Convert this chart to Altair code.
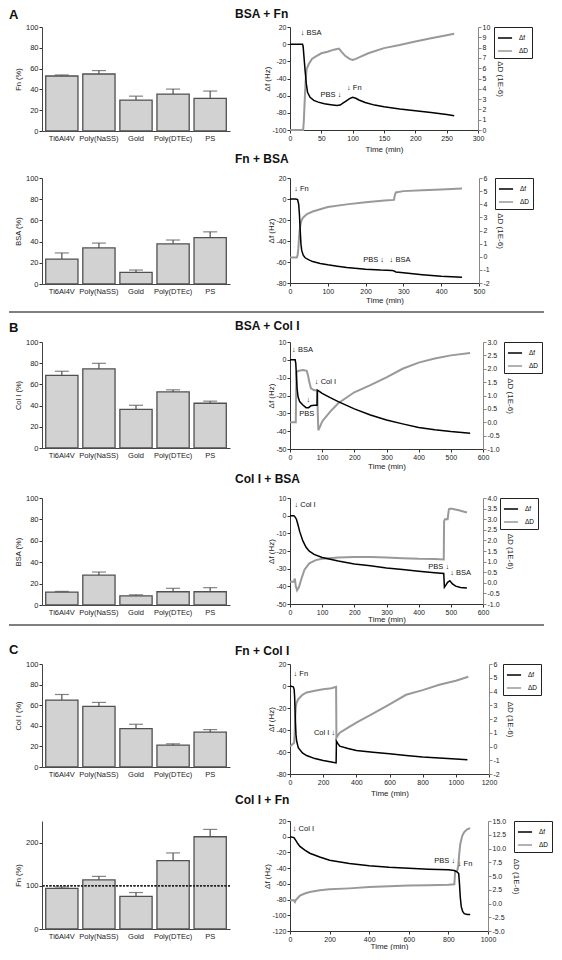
import altair as alt
import pandas as pd

# ---------------- bar data ----------------
CATS = ["Ti6Al4V", "Poly(NaSS)", "Gold", "Poly(DTEc)", "PS"]

A1_MEAN = [52.9, 54.8, 29.7, 35.5, 31.3]
A1_SD = [1.0, 3.3, 3.8, 4.8, 7.1]
A2_MEAN = [23.5, 34.0, 10.9, 37.9, 43.7]
A2_SD = [5.8, 4.6, 2.3, 3.6, 5.5]
B1_MEAN = [68.5, 74.7, 36.4, 52.9, 42.2]
B1_SD = [3.9, 5.2, 3.9, 2.0, 2.0]
B2_MEAN = [12.1, 27.9, 8.6, 12.4, 12.4]
B2_SD = [0.6, 2.9, 0.9, 3.2, 3.8]
C1_MEAN = [65.0, 58.8, 37.3, 21.2, 33.8]
C1_SD = [5.4, 3.9, 4.2, 1.3, 2.5]
C2_MEAN = [94.2, 113.6, 75.5, 158.3, 213.5]
C2_SD = [3.2, 8.2, 8.9, 17.8, 17.0]
C2_REF = 100

# ---------------- QCM data ----------------
# Panel 1: BSA + Fn
P1_F_T = [0, 20, 21, 22, 24, 25, 26, 28, 32, 38, 45, 55, 65, 75, 80, 85, 90, 95, 100, 105, 110, 120, 135, 150, 175, 200, 225, 250, 262]
P1_F_V = [0, 0, -3, -12, -30, -38, -46, -56, -62, -65.5, -67.5, -69.5, -70.5, -71.5, -71, -68.5, -66, -63.5, -62, -63, -65, -68, -71, -73, -75.5, -77.5, -79.5, -82, -83.5]
P1_D_T = [0, 21, 22, 23, 24, 25, 26.5, 30, 35, 40, 50, 60, 70, 78, 82, 88, 95, 100, 105, 112, 125, 150, 175, 200, 225, 250, 262]
P1_D_V = [0, 0, 0.8, 2.2, 3.6, 4.8, 5.9, 6.4, 6.9, 7.1, 7.45, 7.6, 7.8, 7.9, 7.6, 7.2, 6.9, 6.8, 6.9, 7.1, 7.45, 7.95, 8.25, 8.6, 8.9, 9.2, 9.35]
P1_ANN_TEXT = ["↓ BSA", "PBS ↓", "↓ Fn"]
P1_ANN_T = [21, 78, 95]
P1_ANN_Y = [13.3, -58.7, -51.6]

# Panel 2: Fn + BSA
P2_F_T = [0, 15, 20, 23, 25, 27, 29, 31, 35, 40, 50, 60, 80, 100, 125, 150, 200, 240, 270, 275, 280, 300, 350, 400, 455]
P2_F_V = [0, 0, -0.5, -5, -15, -30, -43, -49, -53.5, -56, -58, -59.6, -61.4, -62.7, -64, -65.2, -66.8, -67.7, -68, -68.5, -69.5, -70.3, -72.1, -73.6, -74.5]
P2_D_T = [0, 18, 20, 22, 24, 26, 28, 31, 35, 45, 60, 80, 100, 150, 200, 250, 275, 277, 280, 300, 350, 400, 455]
P2_D_V = [-0.05, -0.05, 0.1, 0.6, 1.5, 2.1, 2.5, 2.8, 3.0, 3.25, 3.45, 3.62, 3.79, 3.99, 4.16, 4.29, 4.33, 4.65, 4.9, 5.0, 5.07, 5.12, 5.2]
P2_ANN_TEXT = ["↓ Fn", "PBS ↓", "↓ BSA"]
P2_ANN_T = [17.6, 242, 270]
P2_ANN_Y = [9.6, -58, -58]

# Panel 3: BSA + Col I
P3_F_T = [0, 16, 18, 20, 22, 25, 30, 40, 50, 58, 65, 75, 84, 85, 90, 100, 125, 150, 200, 250, 300, 350, 400, 450, 500, 560]
P3_F_V = [0, 0, -2, -9, -16, -20.7, -23.4, -25.3, -26.8, -26.8, -25.7, -25.5, -25.5, -17, -17.5, -18.8, -21.2, -23.4, -27.5, -30.9, -33.7, -35.9, -37.9, -39.2, -40.2, -41.1]
P3_D_T = [0, 18, 19, 20, 25, 40, 52, 56, 60, 65, 75, 85, 86, 88, 95, 100, 125, 150, 200, 250, 300, 350, 400, 450, 500, 560]
P3_D_V = [0, 0, 1.0, 1.85, 1.92, 1.95, 1.92, 1.75, 1.5, 1.27, 1.2, 1.2, 0.5, -0.3, -0.12, 0.03, 0.4, 0.71, 1.12, 1.39, 1.68, 2.0, 2.23, 2.38, 2.5, 2.59]
P3_ANN_TEXT = ["↓ BSA", "↓", "PBS", "↓ Col I"]
P3_ANN_T = [14.3, 59.3, 52, 85]
P3_ANN_Y = [5.4, -22.5, -30.3, -12.3]

# Panel 4: Col I + BSA
P4_F_T = [0, 12, 16, 20, 25, 30, 40, 50, 60, 75, 100, 150, 200, 250, 300, 350, 400, 450, 478, 480, 485, 490, 497, 505, 515, 530, 550]
P4_F_V = [0, 0, -0.8, -2, -5.3, -8.9, -14.3, -17.9, -20.1, -21.9, -23.7, -25.7, -27.3, -28.4, -29.6, -30.5, -31.4, -32.3, -32.7, -40.5, -39.2, -37.7, -36.8, -38.6, -39.9, -40.6, -41]
P4_D_T = [0, 12, 15, 18, 22, 28, 35, 45, 60, 80, 100, 150, 200, 250, 300, 350, 400, 450, 478, 479, 482, 490, 494, 500, 510, 525, 550]
P4_D_V = [0.05, 0.05, 0.2, -0.15, -0.35, -0.2, 0.17, 0.62, 0.92, 1.07, 1.13, 1.19, 1.22, 1.22, 1.19, 1.16, 1.13, 1.12, 1.1, 2.9, 3.0, 3.0, 3.47, 3.5, 3.47, 3.42, 3.32]
P4_ANN_TEXT = ["↓ Col I", "PBS ↓", "↓ BSA"]
P4_ANN_T = [21.5, 487, 505.6]
P4_ANN_Y = [5.9, -29.1, -32.3]

# Panel 5: Fn + Col I
P5_F_T = [0, 20, 25, 28, 30, 33, 36, 40, 50, 75, 100, 150, 200, 250, 278, 280, 290, 300, 350, 400, 500, 600, 700, 800, 900, 1000, 1070]
P5_F_V = [0, -0.7, -3, -10, -20, -33, -44, -50, -56, -60.8, -63.2, -66, -67.8, -69, -69.9, -50.1, -52.6, -54.7, -56.8, -58.7, -60.2, -61.7, -63.2, -64.5, -65.4, -66.3, -67]
P5_D_T = [0, 25, 28, 31, 35, 40, 50, 75, 100, 150, 200, 250, 278, 280, 290, 300, 350, 400, 500, 600, 700, 800, 900, 1000, 1075]
P5_D_V = [0, 0.27, 0.9, 2.0, 2.85, 3.2, 3.44, 3.76, 3.93, 4.05, 4.17, 4.24, 4.34, 0.63, 0.83, 1.0, 1.37, 1.73, 2.39, 3.07, 3.76, 4.1, 4.49, 4.78, 5.07]
P5_ANN_TEXT = ["↓ Fn", "Col I ↓"]
P5_ANN_T = [36, 257.6]
P5_ANN_Y = [10.9, -42.5]

# Panel 6: Col I + Fn
P6_F_T = [0, 20, 30, 40, 50, 75, 100, 150, 200, 300, 400, 500, 600, 700, 800, 830, 845, 852, 856, 860, 865, 872, 880, 895, 910]
P6_F_V = [0, -1.1, -5, -9, -12.3, -17, -21, -25.9, -29.9, -34.2, -37, -39, -40.2, -41.4, -42.2, -43, -45, -47, -60, -77, -89, -95, -98, -99, -99]
P6_D_T = [0, 20, 25, 30, 50, 75, 100, 150, 200, 300, 400, 500, 600, 700, 800, 830, 834, 845, 850, 855, 860, 870, 880, 895, 910]
P6_D_V = [0.57, 0.57, 0.28, 0.68, 1.42, 1.82, 2.1, 2.4, 2.58, 2.75, 2.98, 3.15, 3.26, 3.32, 3.43, 3.5, 5.8, 6.0, 6.85, 9.1, 10.8, 12.3, 13.0, 13.5, 13.7]
P6_ANN_TEXT = ["↓ Col I", "PBS ↓", "↓ Fn"]
P6_ANN_T = [26.7, 821.7, 860]
P6_ANN_Y = [10, -31, -35]

FONT = "Liberation Sans"
MINUS_FIX = "replace(datum.label, '\u2212', '-')"
BAR_W = 188
COL_GAP = 60


def ticks(lo, hi, step):
    n = int(round((hi - lo) / step))
    return [round(lo + i * step, 3) for i in range(n + 1)]


def bar_chart(means, sds, ytitle, ymax, ystep, h, section=None, sec_off=2, ref=None):
    df = pd.DataFrame({"surface": CATS, "mean": means,
                       "top": [m + s for m, s in zip(means, sds)]})
    base = alt.Chart(df)
    x = alt.X("surface:N", sort=CATS, title=None,
              scale=alt.Scale(paddingInner=0.13, paddingOuter=0.1),
              axis=alt.Axis(labelAngle=0, ticks=False, labelPadding=3, labelFontSize=7.5,
                            domainColor="#444"))
    ysc = alt.Scale(domain=[0, ymax], nice=False)
    yax = alt.Axis(values=ticks(0, ymax, ystep), tickSize=3, labelPadding=1, labelFontSize=7.5,
                   titleFontSize=7.5, titlePadding=3, format="d", domainColor="#444")
    bars = base.mark_bar(fill="#d2d2d2", stroke="#505050", strokeWidth=1.3).encode(
        x=x, y=alt.Y("mean:Q", title=ytitle, scale=ysc, axis=yax))
    err = base.mark_rule(color="#505050", strokeWidth=1.2).encode(
        x=x, y=alt.Y("mean:Q", title=ytitle, scale=ysc, axis=yax), y2="top:Q")
    cap = base.mark_tick(color="#505050", size=14, thickness=1.2).encode(
        x=x, y=alt.Y("top:Q", title=ytitle, scale=ysc, axis=yax))
    layers = [bars]
    if ref is not None:
        layers.append(base.mark_rule(color="#222", strokeDash=[2, 1.5], strokeWidth=0.8).encode(
            y=alt.datum(ref)))
    layers += [err, cap]
    ch = alt.layer(*layers).properties(width=BAR_W, height=h)
    if section:
        ch = ch.properties(title=alt.TitleParams(section, anchor="start", frame="group", dx=-33,
                                                 offset=sec_off, fontSize=13, fontWeight="bold",
                                                 color="#111"))
    return ch


def qcm_chart(title, toff, ft, fv, dt, dv, atext, at, ay, xmax, xstep,
              fmin, fmax, fstep, dmin, dmax, dstep, dfmt, w, h, leg_dx, xtp):
    fdf = pd.DataFrame({"t": ft, "v": fv, "s": ["Δf"] * len(ft)})
    ddf = pd.DataFrame({"t": dt, "v": dv, "s": ["ΔD"] * len(dt)})
    xs = alt.X("t:Q", title="Time (min)", scale=alt.Scale(domain=[0, xmax], nice=False, zero=False),
               axis=alt.Axis(values=ticks(0, xmax, xstep), tickSize=3, labelPadding=1, labelFontSize=7,
                             titleFontSize=8, titlePadding=xtp, labelFlush=False, labelOverlap=False,
                             format="d"))
    col = alt.Color("s:N", scale=alt.Scale(domain=["Δf", "ΔD"], range=["#000000", "#999999"]),
                    legend=alt.Legend(title=None, orient="none", legendX=w + leg_dx, legendY=0,
                                      symbolType="stroke", symbolSize=200, symbolStrokeWidth=1.5,
                                      labelFontSize=6.5, labelOffset=6, strokeColor="#222",
                                      padding=3, rowPadding=1, cornerRadius=0, fillColor="white"))
    fsc = alt.Scale(domain=[fmin, fmax], nice=False, zero=False)
    fax = alt.Axis(values=ticks(fmin, fmax, fstep), tickSize=3, labelPadding=1, labelFontSize=7,
                   titleFontSize=8, titlePadding=0, labelOverlap=False, format="d",
                   labelExpr=MINUS_FIX)
    fline = alt.Chart(fdf).mark_line(strokeWidth=1.5).encode(
        x=xs, y=alt.Y("v:Q", title="Δf (Hz)", scale=fsc, axis=fax), color=col)
    kinds = ["left" if s.startswith("↓") else ("right" if s.endswith("↓") else "center")
             for s in atext]
    adf = pd.DataFrame({"t": at, "y": ay, "label": atext, "kind": kinds})
    texts = []
    for kind, dx in [("left", -2.5), ("right", 2.5), ("center", 0)]:
        sub = adf[adf["kind"] == kind]
        if len(sub) == 0:
            continue
        texts.append(alt.Chart(sub).mark_text(align=kind, baseline="middle", dx=dx, fontSize=7.5,
                                              color="#111").encode(
            x=xs, y=alt.Y("y:Q", title="Δf (Hz)", scale=fsc, axis=fax), text="label:N"))
    dsc = alt.Scale(domain=[dmin, dmax], nice=False, zero=False)
    dax = alt.Axis(orient="right", values=ticks(dmin, dmax, dstep), tickSize=3, labelPadding=1,
                   labelFontSize=7, titleFontSize=8, titlePadding=6, labelOverlap=False,
                   format=dfmt, labelExpr=MINUS_FIX, domainColor="#888", tickColor="#888")
    dline = alt.Chart(ddf).mark_line(strokeWidth=2).encode(
        x=xs, y=alt.Y("v:Q", title="ΔD (1E-6)", scale=dsc, axis=dax), color=col)
    ch = alt.layer(dline, alt.layer(fline, *texts)).resolve_scale(y="independent").properties(
        width=w, height=h,
        title=alt.TitleParams(title, anchor="start", frame="group", dx=-55, offset=toff,
                              fontSize=12, fontWeight="bold", color="#111"))
    return ch


def spacer(h):
    return alt.Chart(pd.DataFrame({"z": [0]})).mark_rule(strokeOpacity=0).encode(
        x=alt.value(0), x2=alt.value(1), y=alt.value(0)).properties(width=10, height=h)


def separator(h, yline):
    return alt.Chart(pd.DataFrame({"z": [0]})).mark_rule(color="#555", strokeWidth=1.5).encode(
        x=alt.value(-33), x2=alt.value(502), y=alt.value(yline)).properties(width=BAR_W, height=h)


bar1 = bar_chart(A1_MEAN, A1_SD, "Fn (%)", 100, 20, 104, section="A", sec_off=1)
bar2 = bar_chart(A2_MEAN, A2_SD, "BSA (%)", 100, 20, 106)
bar3 = bar_chart(B1_MEAN, B1_SD, "Col I (%)", 100, 20, 106, section="B", sec_off=3)
bar4 = bar_chart(B2_MEAN, B2_SD, "BSA (%)", 100, 20, 107)
bar5 = bar_chart(C1_MEAN, C1_SD, "Col I (%)", 100, 20, 103, section="C", sec_off=3)
bar6 = bar_chart(C2_MEAN, C2_SD, "Fn (%)", 250, 50, 108, ref=C2_REF)

q1 = qcm_chart("BSA + Fn", 2, P1_F_T, P1_F_V, P1_D_T, P1_D_V, P1_ANN_TEXT, P1_ANN_T, P1_ANN_Y,
               300, 50, -100, 20, 20, 0, 10, 1, "d", 188, 103, 16, 4)
q2 = qcm_chart("Fn + BSA", 8, P2_F_T, P2_F_V, P2_D_T, P2_D_V, P2_ANN_TEXT, P2_ANN_T, P2_ANN_Y,
               500, 100, -80, 20, 20, -2, 6, 1, "d", 189, 105, 16, 2)
q3 = qcm_chart("BSA + Col I", 5, P3_F_T, P3_F_V, P3_D_T, P3_D_V, P3_ANN_TEXT, P3_ANN_T, P3_ANN_Y,
               600, 100, -50, 10, 10, -1, 3, 0.5, ".1f", 193, 107, 21, 2)
q4 = qcm_chart("Col I + BSA", 8, P4_F_T, P4_F_V, P4_D_T, P4_D_V, P4_ANN_TEXT, P4_ANN_T, P4_ANN_Y,
               600, 100, -50, 10, 10, -1, 4, 0.5, ".1f", 193, 106, 17, 0)
q5 = qcm_chart("Fn + Col I", 2, P5_F_T, P5_F_V, P5_D_T, P5_D_V, P5_ANN_TEXT, P5_ANN_T, P5_ANN_Y,
               1200, 200, -80, 20, 20, -2, 6, 1, "d", 199, 110, 14, 4)
q6 = qcm_chart("Col I + Fn", 10, P6_F_T, P6_F_V, P6_D_T, P6_D_V, P6_ANN_TEXT, P6_ANN_T, P6_ANN_Y,
               1000, 200, -120, 20, 20, -5, 15, 2.5, ".1f", 198, 110, 26, 0)

cells = [
    bar1, q1,
    spacer(47), spacer(47),
    bar2, q2,
    separator(58, 28), spacer(58),
    bar3, q3,
    spacer(49), spacer(49),
    bar4, q4,
    separator(59, 20), spacer(59),
    bar5, q5,
    spacer(47), spacer(47),
    bar6, q6,
]

chart = alt.concat(*cells, columns=2, spacing={"row": 0, "column": COL_GAP}, bounds="flush").resolve_scale(
    color="independent").resolve_legend(color="independent").properties(
    padding={"left": 0, "top": 0, "right": 0, "bottom": 0}
).configure(font=FONT).configure_view(stroke=None).configure_axis(
    grid=False, labelColor="#222", titleColor="#222", domainColor="#333", tickColor="#333",
    titleFontWeight="normal", domainWidth=1, tickWidth=1)

chart.save("out.html", embed_options={"renderer": "svg", "actions": False})
